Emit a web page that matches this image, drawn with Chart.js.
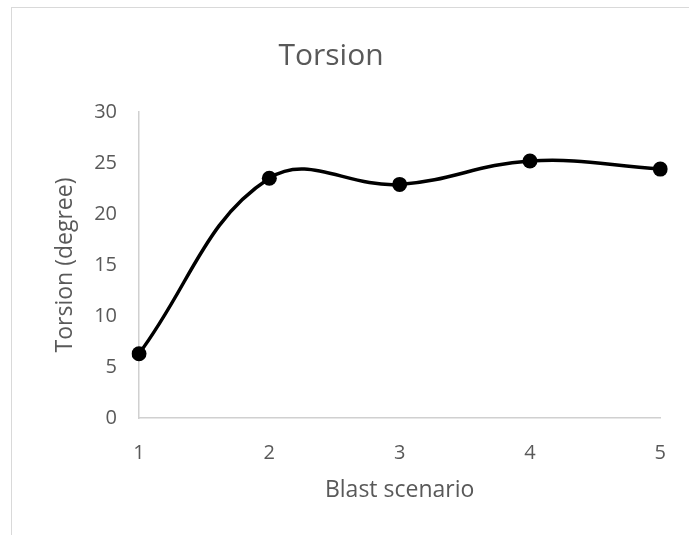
<!DOCTYPE html>
<html>
<head>
<meta charset="utf-8">
<script src="https://cdn.jsdelivr.net/npm/chart.js@4/dist/chart.umd.min.js"></script>
<style>
  html, body { margin: 0; padding: 0; background: #ffffff; overflow: hidden; width: 689px; height: 535px; }
  #frame { position: absolute; left: 11px; top: 7px; width: 800px; height: 700px; border: 1px solid #d9d9d9; box-sizing: border-box; }
  #c { position: absolute; left: 0; top: 0; }
</style>
</head>
<body>
<div id="frame"></div>
<canvas id="c" width="689" height="535"></canvas>
<script>
const categories = ['1', '2', '3', '4', '5'];
const torsionValues = [6.3, 23.5, 22.9, 25.2, 24.4];
const yMin = 0;
const yMax = 30;
const yStep = 5;
const chartTitle = 'Torsion';
const xTitle = 'Blast scenario';
const yTitle = 'Torsion (degree)';

const textColor = '#595959';
const axisColor = '#d0d0d0';
const fontFamily = '"Open Sans", "Liberation Sans", sans-serif';

new Chart(document.getElementById('c'), {
  type: 'line',
  data: {
    labels: categories,
    datasets: [{
      data: torsionValues,
      borderColor: '#000000',
      backgroundColor: '#000000',
      borderWidth: 3.5,
      tension: 0.4,
      pointRadius: 7.5,
      pointBorderWidth: 0,
      pointBackgroundColor: '#000000',
      fill: false
    }]
  },
  options: {
    responsive: false,
    animation: false,
    devicePixelRatio: 1,
    layout: { padding: { left: 0, right: 27, top: 0, bottom: 0 } },
    plugins: {
      legend: { display: false },
      tooltip: { enabled: false },
      title: {
        display: true,
        text: chartTitle,
        color: textColor,
        font: { family: fontFamily, size: 30, weight: 'normal' },
        padding: { top: 38, bottom: 38 }
      }
    },
    scales: {
      x: {
        type: 'category',
        offset: false,
        grid: { display: true, drawOnChartArea: false, drawTicks: false },
        border: { display: true, color: axisColor, width: 1.5 },
        ticks: { color: textColor, font: { family: fontFamily, size: 20 }, padding: 23, maxRotation: 0 },
        title: {
          display: true, text: xTitle, color: textColor,
          font: { family: fontFamily, size: 23 }, padding: { top: 0, bottom: 31 }
        },
        afterFit: (s) => { s.height = 117; }
      },
      y: {
        min: yMin, max: yMax,
        grid: { display: true, drawOnChartArea: false, drawTicks: false },
        border: { display: true, color: axisColor, width: 1.5 },
        ticks: { stepSize: yStep, color: textColor, font: { family: fontFamily, size: 20 }, padding: 22 },
        title: {
          display: true, text: yTitle, color: textColor,
          font: { family: fontFamily, size: 23 }, padding: { top: 52, bottom: 0 }
        },
        afterFit: (s) => { s.width = 139; }
      }
    }
  }
});
</script>
</body>
</html>
